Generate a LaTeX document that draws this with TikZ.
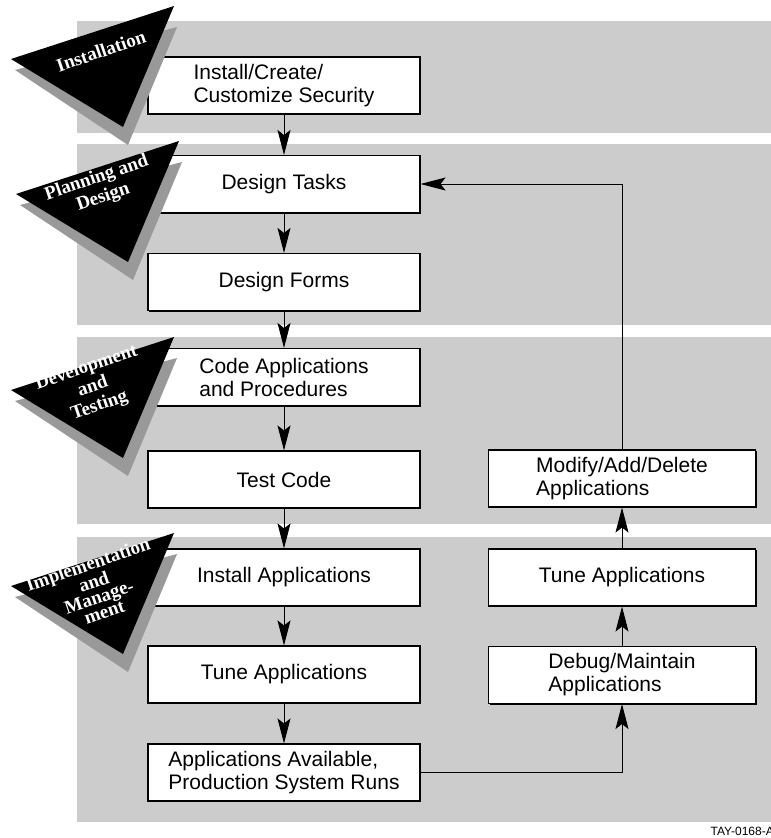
\documentclass[tikz,border=0pt]{standalone}
\usepackage{fontspec}
\usetikzlibrary{arrows.meta,shadows}
\newfontfamily\boxfont{Liberation Sans}
\newfontfamily\trifont{Liberation Serif}
\definecolor{band}{HTML}{CCCCCC}
\definecolor{trishadow}{HTML}{999999}
\tikzset{
  flowbox/.style={draw, line width=1.1pt, fill=white, inner sep=0pt, align=left,
    minimum height=57pt, font=\boxfont\fontsize{21}{23}\selectfont,
    drop shadow={shadow xshift=1.4pt, shadow yshift=-1.4pt, fill=black, opacity=1}},
  leftbox/.style={flowbox, minimum width=272pt},
  rightbox/.style={flowbox, minimum width=267pt},
  arr/.style={line width=1pt, -{Stealth[length=25pt,width=13pt,inset=5pt]}},
  bandrect/.style={fill=band},
  trilabel/.style={text=white, align=center, rotate=19,
    font=\trifont\bfseries\fontsize{19}{20}\selectfont, inner sep=0pt},
}
\begin{document}
\begin{tikzpicture}[x=1pt,y=-1pt]
\useasboundingbox (0,0) rectangle (771,838);
% bands
\fill[bandrect] (77,21) rectangle (771,133);
\fill[bandrect] (77,144) rectangle (771,325);
\fill[bandrect] (77,337) rectangle (771,524);
\fill[bandrect] (77,537) rectangle (771,822);
% left column
\node[leftbox] (b1) at (284,85.5) {Install/Create/\\Customize Security};
\node[leftbox] (b2) at (284,184) {Design Tasks};
\node[leftbox] (b3) at (284,282) {Design Forms};
\node[leftbox] (b4) at (284,377) {Code Applications\\and Procedures};
\node[leftbox] (b5) at (284,479.5) {Test Code};
\node[leftbox] (b6) at (284,577.5) {Install Applications};
\node[leftbox] (b7) at (284,674.5) {Tune Applications};
\node[leftbox] (b8) at (284,772.5) {Applications Available,\\Production System Runs};
% right column
\node[rightbox] (r1) at (622,478.5) {Modify/Add/Delete\\Applications};
\node[rightbox] (r2) at (622,577.5) {Tune Applications};
\node[rightbox] (r3) at (622,675) {Debug/Maintain\\Applications};
% connectors
\draw[arr] (b1) -- (b2);
\draw[arr] (b2) -- (b3);
\draw[arr] (b3) -- (b4);
\draw[arr] (b4) -- (b5);
\draw[arr] (b5) -- (b6);
\draw[arr] (b6) -- (b7);
\draw[arr] (b7) -- (b8);
\draw[arr] (b8.east) -| (r3.south);
\draw[arr] (r3) -- (r2);
\draw[arr] (r2) -- (r1);
\draw[arr] (r1.north) -- (r1.north |- b2.east) -- (b2.east);
% phase triangles
\foreach \dx/\dy in {0/0, 5/135, 0/331, 0/527} {
  \fill[trishadow] (15+\dx,70+\dy) -- (177+\dx,27+\dy) -- (128+\dx,145+\dy) -- cycle;
  \fill[black] (11+\dx,59+\dy) -- (174+\dx,6+\dy) -- (123+\dx,127+\dy) -- cycle;
}
\node[trilabel] (t1) at (101,51) {Installation};
\node[trilabel] (t2) at (100,188) {Planning and\\Design};
\node[trilabel] (t3) at (93,387) {Development\\and\\Testing};
\node[trilabel, font=\trifont\bfseries\fontsize{19}{16}\selectfont] (t4) at (96,588) {Implementation\\and\\Manage-\\ment};
% figure id
\node[anchor=base east, font=\boxfont\fontsize{12}{14}\selectfont, inner sep=0pt] (id) at (774,835) {TAY-0168-A};
\end{tikzpicture}
\end{document}
